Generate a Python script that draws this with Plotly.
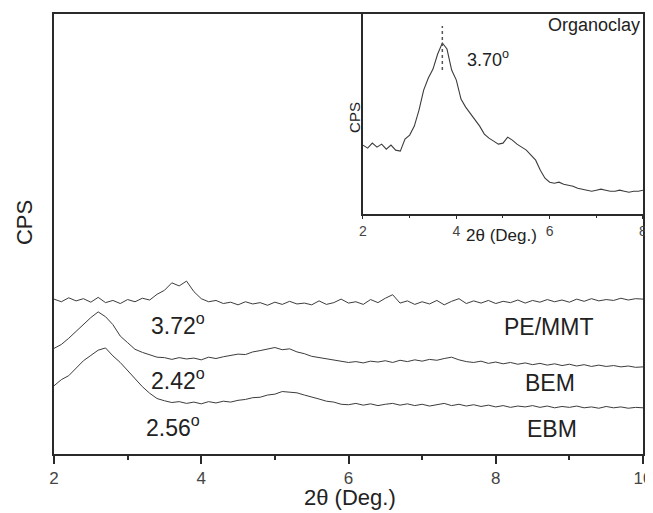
import plotly.graph_objects as go

# ---------------- data ----------------
two_theta = [round(2 + 0.1 * i, 1) for i in range(81)]  # 2.0 .. 10.0

pe_mmt = [35.2, 34.6, 35.5, 34.8, 35.3, 34.5, 35.6, 34.4, 34.9, 34.2,
          35.1, 34.6, 35.4, 35.0, 36.3, 37.2, 38.9, 38.2, 39.3, 36.9,
          35.3, 34.6, 34.9, 34.2, 34.5, 33.9, 34.6, 34.1, 34.4, 33.8,
          34.5, 34.0, 34.7, 34.1, 34.3, 33.9, 34.8, 34.0, 34.4, 35.2,
          34.3, 34.6, 34.0, 35.1, 34.4, 35.4, 36.2, 34.3, 34.8, 34.0,
          34.6, 34.1, 34.9, 33.9, 34.7, 35.3, 34.2, 34.8, 34.3, 34.9,
          34.2, 34.7, 34.4, 35.0, 34.3, 34.9, 34.5, 35.1, 34.6, 35.0,
          34.5, 35.2, 34.7, 35.3, 34.8, 35.1, 34.9, 35.4, 35.0, 35.3,
          35.2]

bem = [24.0, 24.9, 26.3, 27.9, 29.6, 31.0, 32.3, 31.2, 29.4, 26.8,
       25.3, 23.8, 23.1, 22.6, 22.0, 21.9, 21.5, 21.9, 21.6, 21.8,
       21.4, 22.0, 21.7, 22.1, 22.4, 22.7, 22.6, 23.2, 23.5, 23.9,
       24.2, 23.7, 23.9, 23.2, 22.8, 22.2, 21.9, 21.6, 21.3, 21.0,
       20.8, 21.0, 20.7, 21.1, 20.9, 21.2, 20.8, 21.3, 21.0, 21.4,
       21.1, 21.5, 21.3, 21.7, 22.0, 21.4, 21.0, 20.8, 21.1, 20.6,
       20.9, 20.5, 20.8, 20.4, 20.7, 20.3, 20.6, 20.2, 20.5, 20.1,
       20.4, 20.0, 20.3, 19.9, 20.2, 19.9, 20.1, 19.8, 20.0, 19.7,
       19.8]

ebm = [15.5, 16.9, 17.8, 19.6, 21.2, 22.4, 23.6, 24.1, 22.3, 20.8,
       19.0, 17.0, 15.3, 13.8, 12.6, 12.1, 11.7, 11.9, 11.5, 11.8,
       11.4, 11.9, 11.6, 12.0, 11.8, 12.2, 12.4, 12.8, 12.9, 13.4,
       13.6, 14.2, 14.0, 13.9, 13.4, 13.0, 12.5, 12.0, 11.8, 11.3,
       11.2, 11.5, 11.1, 11.4, 11.0, 11.3, 11.5, 11.1, 11.4, 11.0,
       11.3, 10.9, 11.2, 11.5, 11.0, 11.3, 10.9, 11.2, 10.8, 11.1,
       10.7, 11.0, 10.6, 10.9, 10.7, 11.0, 10.6, 10.9, 10.5, 10.8,
       10.6, 10.9, 10.5, 10.7, 10.4, 10.8, 10.5, 10.7, 10.4, 10.6,
       10.5]

inset_theta = [round(2 + 0.1 * i, 1) for i in range(61)]  # 2.0 .. 8.0
organoclay = [34.5, 33.0, 35.5, 33.5, 35.0, 32.5, 34.5, 32.0, 31.5, 37.5,
              39.5, 44.0, 52.0, 62.0, 68.0, 72.5, 80.0, 85.5, 82.5, 72.0,
              67.0, 57.5, 53.5, 50.5, 47.0, 44.0, 40.0, 38.0, 36.5, 35.0,
              35.5, 38.5, 37.0, 35.0, 33.5, 32.0, 29.5, 27.0, 22.0, 18.0,
              16.0, 15.5, 16.0, 15.0, 14.5, 14.0, 13.0, 12.5, 12.0, 11.5,
              12.0, 12.5, 12.0, 11.5, 11.5, 12.0, 11.5, 11.0, 11.5, 11.5,
              12.0]

main_ticks = [2, 4, 6, 8, 10]
inset_ticks = [2, 4, 6, 8]
peak_inset = 3.70

# ---------------- figure ----------------
FONT = "Liberation Sans, Arial, sans-serif"
LINE = "#3c3c3c"
AX = "#2a2a2a"

fig = go.Figure()
for ys in (pe_mmt, bem, ebm):
    fig.add_trace(go.Scatter(x=two_theta, y=ys, mode="lines",
                             line=dict(color=LINE, width=1), showlegend=False,
                             xaxis="x", yaxis="y"))
fig.add_trace(go.Scatter(x=inset_theta, y=organoclay, mode="lines",
                         line=dict(color=LINE, width=1.1), showlegend=False,
                         xaxis="x2", yaxis="y2"))

fig.add_shape(type="line", xref="x2", yref="y2", x0=peak_inset, x1=peak_inset,
              y0=72, y1=94, line=dict(color="#555", width=1.5, dash="dot"))

# page has an 8px default body margin: keep the figure inside the visible window
fig.update_layout(
    width=637, height=505,
    margin=dict(l=46, r=2, t=6, b=59, autoexpand=False),
    paper_bgcolor="white", plot_bgcolor="white",
    font=dict(family=FONT, color="#222"),
    xaxis=dict(domain=[0, 1], range=[2, 10], tickvals=main_ticks, automargin=False,
               ticklabeloverflow="allow",
               showline=True, linecolor=AX, linewidth=1.5, mirror=True,
               ticks="outside", ticklen=8, tickwidth=1.5, tickcolor=AX,
               minor=dict(ticks="outside", ticklen=4, dtick=1, tickcolor=AX, tickwidth=1.5),
               showgrid=False, zeroline=False,
               tickfont=dict(size=17, color="#444", family=FONT)),
    yaxis=dict(domain=[0, 1], range=[0, 100], showticklabels=False, ticks="",
               automargin=False,
               showline=True, linecolor=AX, linewidth=1.5, mirror=True,
               showgrid=False, zeroline=False),
    xaxis2=dict(domain=[0.5246, 1], anchor="y2", range=[2, 8], tickvals=inset_ticks,
                automargin=False, ticklabeloverflow="allow",
                showline=True, linecolor=AX, linewidth=1.5,
                ticks="outside", ticklen=3, tickcolor=AX,
                minor=dict(ticks="outside", ticklen=2, dtick=1, tickcolor=AX),
                showgrid=False, zeroline=False,
                tickfont=dict(size=14, color="#444", family=FONT)),
    yaxis2=dict(domain=[0.545, 1], anchor="x2", range=[0, 100],
                showticklabels=False, ticks="", automargin=False,
                showline=True, linecolor=AX, linewidth=1.5,
                showgrid=False, zeroline=False),
)

def ann(text, x, y, size, xref="x", yref="y", angle=0, xanchor="center"):
    fig.add_annotation(text=text, x=x, y=y, xref=xref, yref=yref, showarrow=False,
                       textangle=angle, xanchor=xanchor, yanchor="middle",
                       font=dict(size=size, family=FONT, color="#222"))

# main labels
ann("3.72<sup>o</sup>", 3.68, 29.5, 23)
ann("2.42<sup>o</sup>", 3.68, 17.0, 23)
ann("2.56<sup>o</sup>", 3.61, 6.3, 23)
ann("PE/MMT", 8.72, 28.9, 23)
ann("BEM", 8.73, 16.1, 23)
ann("EBM", 8.76, 5.7, 23)
# axis titles main
ann("2θ (Deg.)", 0.5025, -0.098, 22, xref="paper", yref="paper")
ann("CPS", -0.051, 0.527, 22, xref="paper", yref="paper", angle=-90)
# inset labels
ann("3.70<sup>o</sup>", 4.68, 78, 18, xref="x2", yref="y2")
ann("Organoclay", 7.97, 94.5, 18, xref="x2", yref="y2", xanchor="right")
ann("2θ (Deg.)", 0.7606, 0.4977, 17, xref="paper", yref="paper")
ann("CPS", 0.511, 0.766, 15, xref="paper", yref="paper", angle=-90)

fig.write_html("out.html")
